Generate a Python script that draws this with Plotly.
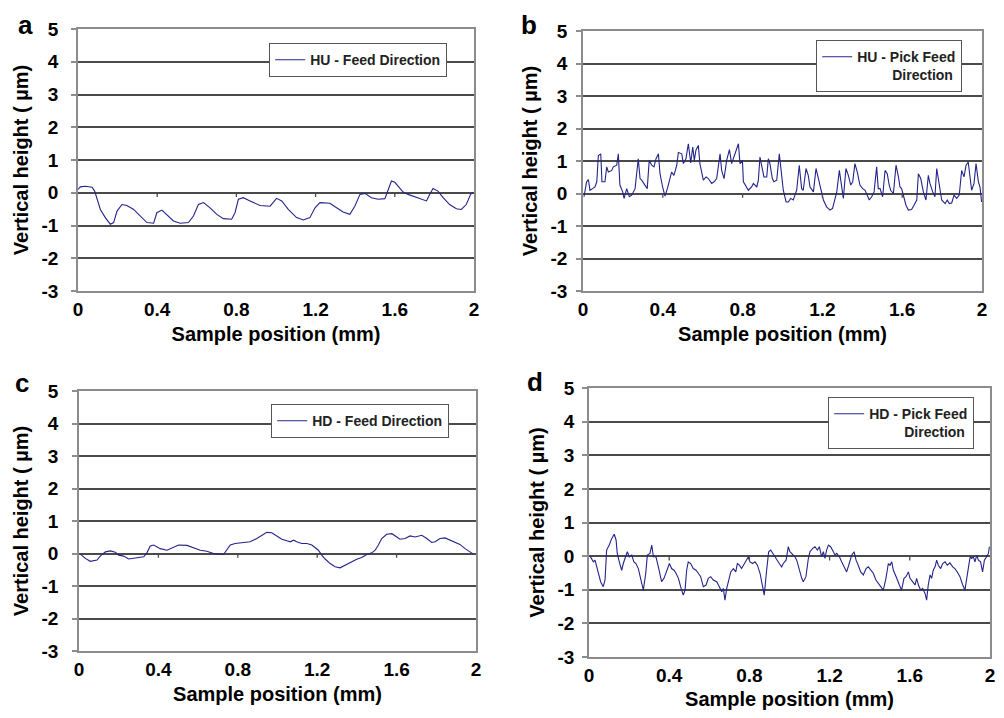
import plotly.graph_objects as go

# ---------------- data ----------------
a_x = [0.000, 0.012, 0.037, 0.071, 0.084, 0.096, 0.113, 0.138, 0.163, 0.180, 0.197, 0.222, 0.247, 0.281,
       0.314, 0.348, 0.382, 0.398, 0.424, 0.449, 0.482, 0.516, 0.558, 0.583, 0.608, 0.634, 0.667, 0.701,
       0.734, 0.776, 0.793, 0.810, 0.835, 0.869, 0.919, 0.970, 1.003, 1.029, 1.062, 1.104, 1.138, 1.171,
       1.197, 1.222, 1.272, 1.306, 1.339, 1.373, 1.398, 1.424, 1.449, 1.482, 1.516, 1.550, 1.566, 1.583,
       1.600, 1.617, 1.642, 1.667, 1.701, 1.734, 1.760, 1.776, 1.793, 1.818, 1.844, 1.877, 1.911, 1.936,
       1.961, 1.983, 1.995]
a_y = [0.10, 0.18, 0.20, 0.17, 0.05, -0.20, -0.51, -0.76, -0.96, -0.91, -0.56, -0.36, -0.39, -0.51,
       -0.71, -0.91, -0.93, -0.61, -0.53, -0.66, -0.86, -0.93, -0.91, -0.71, -0.36, -0.30, -0.46, -0.66,
       -0.79, -0.81, -0.61, -0.20, -0.15, -0.25, -0.39, -0.41, -0.17, -0.25, -0.51, -0.76, -0.83, -0.76,
       -0.46, -0.30, -0.32, -0.46, -0.59, -0.66, -0.41, -0.05, -0.02, -0.15, -0.20, -0.18, 0.10, 0.36,
       0.32, 0.20, 0.02, -0.05, -0.12, -0.18, -0.25, -0.05, 0.13, 0.05, -0.15, -0.36, -0.49, -0.51,
       -0.36, -0.05, 0.02]

b_x = [0.005, 0.018, 0.027, 0.035, 0.048, 0.060, 0.069, 0.077, 0.089, 0.095, 0.110, 0.119, 0.127, 0.144,
       0.152, 0.169, 0.177, 0.185, 0.199, 0.206, 0.219, 0.232, 0.244, 0.261, 0.277, 0.286, 0.294, 0.311,
       0.322, 0.332, 0.344, 0.356, 0.366, 0.378, 0.386, 0.399, 0.411, 0.423, 0.436, 0.444, 0.456, 0.470,
       0.478, 0.495, 0.503, 0.516, 0.528, 0.540, 0.550, 0.558, 0.566, 0.578, 0.586, 0.596, 0.603, 0.617,
       0.628, 0.645, 0.657, 0.670, 0.687, 0.695, 0.707, 0.720, 0.734, 0.745, 0.762, 0.770, 0.779, 0.787,
       0.799, 0.804, 0.817, 0.829, 0.845, 0.854, 0.871, 0.879, 0.887, 0.896, 0.907, 0.921, 0.929, 0.937,
       0.949, 0.957, 0.971, 0.984, 0.991, 1.004, 1.018, 1.029, 1.041, 1.054, 1.071, 1.084, 1.096, 1.104,
       1.118, 1.129, 1.138, 1.155, 1.168, 1.180, 1.191, 1.205, 1.221, 1.238, 1.251, 1.263, 1.272, 1.285,
       1.297, 1.305, 1.318, 1.330, 1.342, 1.352, 1.363, 1.375, 1.388, 1.402, 1.414, 1.422, 1.435, 1.447,
       1.459, 1.472, 1.480, 1.489, 1.502, 1.514, 1.525, 1.535, 1.542, 1.556, 1.569, 1.581, 1.589, 1.597,
       1.609, 1.619, 1.631, 1.647, 1.659, 1.673, 1.681, 1.693, 1.706, 1.719, 1.731, 1.739, 1.753, 1.764,
       1.773, 1.786, 1.798, 1.815, 1.826, 1.836, 1.848, 1.860, 1.873, 1.886, 1.898, 1.910, 1.920, 1.931,
       1.940, 1.948, 1.960, 1.970, 1.982, 1.990, 1.998]
b_y = [-0.10, 0.36, 0.43, 0.10, 0.15, 0.20, 0.36, 1.17, 1.22, 0.36, 0.36, 0.82, 0.66, 0.71,
       0.82, 0.87, 1.22, 0.26, 0.05, -0.15, 0.15, -0.10, -0.05, 0.15, 1.07, 0.46, 0.41, 0.26,
       0.15, 1.02, 0.87, 0.82, 1.07, 1.22, 0.61, 0.20, -0.08, 0.15, 0.46, 0.66, 0.56, 0.87,
       1.26, 1.22, 0.92, 1.07, 1.53, 0.94, 1.43, 1.02, 1.33, 1.48, 0.92, 0.61, 0.41, 0.51,
       0.46, 0.31, 0.36, 0.46, 1.22, 0.71, 0.46, 1.02, 1.35, 0.92, 1.22, 1.43, 1.53, 0.92,
       1.02, 0.36, 0.20, 0.10, 0.20, 0.31, 0.20, 0.41, 1.12, 0.82, 0.51, 0.51, 1.07, 0.92,
       0.46, 0.36, 0.41, 1.22, 0.82, 0.10, -0.26, -0.26, -0.15, -0.20, 0.10, 0.87, 0.15, 0.10,
       0.77, 0.56, 0.20, 0.05, 0.77, 0.46, 0.20, -0.20, -0.41, -0.51, -0.46, -0.15, 0.05, 0.71,
       0.10, -0.15, 0.77, 0.56, 0.26, 0.36, 0.92, 0.66, 0.26, 0.15, 0.10, 0.00, -0.20, -0.10,
       0.05, 0.82, 0.15, 0.15, -0.10, 0.71, 0.61, 0.26, 0.10, 0.00, 0.87, 0.51, 0.20, 0.15,
       -0.15, -0.36, -0.51, -0.49, -0.36, -0.20, 0.61, 0.46, 0.05, -0.20, 0.56, 0.31, 0.05, -0.10,
       0.77, 0.20, -0.20, -0.31, -0.20, -0.31, -0.29, -0.05, -0.15, -0.05, 0.71, 0.51, 0.87, 0.97,
       0.46, 0.10, 0.31, 0.92, 0.36, 0.20, -0.26]

c_x = [0.007, 0.032, 0.057, 0.091, 0.107, 0.133, 0.158, 0.183, 0.200, 0.225, 0.250, 0.275, 0.300, 0.326,
       0.342, 0.359, 0.376, 0.409, 0.443, 0.477, 0.502, 0.544, 0.577, 0.611, 0.644, 0.678, 0.728, 0.742,
       0.762, 0.787, 0.829, 0.862, 0.896, 0.921, 0.946, 0.971, 0.997, 1.022, 1.047, 1.064, 1.081, 1.097,
       1.122, 1.148, 1.173, 1.206, 1.223, 1.240, 1.265, 1.290, 1.315, 1.341, 1.366, 1.399, 1.424, 1.450,
       1.475, 1.492, 1.508, 1.525, 1.550, 1.576, 1.601, 1.617, 1.643, 1.668, 1.693, 1.727, 1.752, 1.777,
       1.794, 1.819, 1.844, 1.869, 1.894, 1.919, 1.945, 1.970, 1.987]
c_y = [-0.02, -0.15, -0.24, -0.20, -0.08, 0.05, 0.08, 0.04, -0.05, -0.08, -0.17, -0.15, -0.12, -0.10,
       0.02, 0.23, 0.26, 0.15, 0.10, 0.18, 0.26, 0.25, 0.18, 0.10, 0.07, 0.00, -0.03, 0.10,
       0.26, 0.31, 0.33, 0.36, 0.46, 0.56, 0.65, 0.64, 0.54, 0.44, 0.39, 0.36, 0.41, 0.36,
       0.31, 0.31, 0.26, 0.10, -0.05, -0.17, -0.31, -0.41, -0.44, -0.36, -0.26, -0.18, -0.12, -0.03,
       0.02, 0.10, 0.26, 0.46, 0.59, 0.61, 0.51, 0.44, 0.46, 0.54, 0.51, 0.56, 0.46, 0.34,
       0.36, 0.46, 0.48, 0.41, 0.33, 0.28, 0.15, 0.05, -0.02]

d_x = [0.005, 0.013, 0.022, 0.030, 0.038, 0.047, 0.058, 0.071, 0.080, 0.088, 0.101, 0.113, 0.126, 0.135,
       0.141, 0.151, 0.163, 0.171, 0.180, 0.191, 0.201, 0.213, 0.224, 0.234, 0.246, 0.258, 0.271, 0.283,
       0.291, 0.304, 0.313, 0.321, 0.334, 0.346, 0.354, 0.362, 0.374, 0.387, 0.401, 0.412, 0.424, 0.434,
       0.446, 0.457, 0.470, 0.479, 0.487, 0.495, 0.507, 0.520, 0.534, 0.545, 0.557, 0.570, 0.584, 0.595,
       0.607, 0.620, 0.637, 0.650, 0.662, 0.670, 0.678, 0.687, 0.700, 0.707, 0.720, 0.732, 0.740, 0.750,
       0.761, 0.770, 0.783, 0.795, 0.803, 0.816, 0.828, 0.840, 0.853, 0.866, 0.874, 0.886, 0.896, 0.906,
       0.916, 0.928, 0.936, 0.949, 0.961, 0.969, 0.983, 0.994, 1.002, 1.016, 1.027, 1.036, 1.049, 1.061,
       1.069, 1.082, 1.094, 1.102, 1.116, 1.127, 1.139, 1.149, 1.160, 1.169, 1.177, 1.185, 1.194, 1.205,
       1.219, 1.227, 1.235, 1.249, 1.260, 1.272, 1.285, 1.298, 1.310, 1.322, 1.332, 1.343, 1.355, 1.368,
       1.382, 1.393, 1.405, 1.418, 1.431, 1.443, 1.455, 1.468, 1.481, 1.493, 1.501, 1.510, 1.518, 1.526,
       1.535, 1.548, 1.559, 1.571, 1.581, 1.593, 1.601, 1.614, 1.626, 1.634, 1.643, 1.654, 1.664, 1.676,
       1.684, 1.692, 1.701, 1.709, 1.717, 1.726, 1.734, 1.742, 1.754, 1.764, 1.776, 1.787, 1.800, 1.814,
       1.825, 1.837, 1.850, 1.864, 1.875, 1.884, 1.892, 1.901, 1.909, 1.917, 1.925, 1.934, 1.942, 1.953,
       1.963, 1.972, 1.983, 1.992, 1.997]
d_y = [0.00, -0.07, -0.17, -0.12, -0.32, -0.56, -0.76, -0.91, -0.71, 0.18, 0.33, 0.52, 0.65, 0.48,
       0.08, -0.17, -0.42, -0.22, -0.07, 0.13, -0.02, 0.03, -0.17, -0.22, -0.37, -0.71, -1.01, -0.51,
       0.03, 0.08, 0.33, -0.02, -0.02, -0.32, -0.56, -0.76, -0.66, -0.42, -0.22, -0.37, -0.42, -0.51,
       -0.66, -0.91, -1.16, -1.01, -0.42, -0.17, -0.22, -0.37, -0.42, -0.51, -0.61, -0.91, -0.86, -0.66,
       -0.61, -0.71, -0.76, -0.91, -1.06, -0.96, -1.31, -0.96, -0.66, -0.47, -0.37, -0.47, -0.22, -0.27,
       -0.37, -0.27, -0.12, -0.02, -0.17, -0.22, -0.17, -0.27, -0.51, -0.96, -1.16, -0.42, 0.13, 0.18,
       0.08, -0.02, -0.12, -0.22, -0.32, -0.22, -0.12, 0.28, 0.13, 0.03, -0.02, -0.12, -0.42, -0.66,
       -0.76, -0.61, -0.07, 0.13, 0.23, 0.28, 0.18, 0.28, -0.02, 0.13, -0.07, 0.18, 0.33, 0.28,
       0.13, 0.03, 0.08, -0.02, -0.17, -0.32, -0.47, -0.22, 0.03, 0.13, -0.12, -0.27, -0.47, -0.56,
       -0.37, -0.32, -0.42, -0.51, -0.71, -0.81, -0.91, -1.01, -0.66, -0.22, -0.27, -0.17, -0.42, -0.56,
       -0.66, -0.86, -1.01, -0.66, -0.61, -0.47, -0.66, -0.76, -0.86, -0.66, -0.86, -1.01, -0.96, -1.11,
       -1.31, -0.86, -0.56, -0.66, -0.42, -0.32, -0.12, -0.27, -0.37, -0.22, -0.17, -0.27, -0.20, -0.32,
       -0.37, -0.47, -0.61, -0.86, -1.01, -0.66, -0.32, -0.02, -0.07, -0.02, -0.17, 0.03, -0.12, -0.17,
       -0.47, -0.12, -0.02, 0.08, 0.28]

series_names = ["HU - Feed Direction",
                "HU - Pick Feed<br>\u00a0\u00a0\u00a0\u00a0\u00a0\u00a0\u00a0\u00a0\u00a0Direction",
                "HD - Feed Direction",
                "HD - Pick Feed<br>\u00a0\u00a0\u00a0\u00a0\u00a0\u00a0\u00a0\u00a0\u00a0Direction"]
panel_letters = ["a", "b", "c", "d"]

x_tick_vals = [0, 0.4, 0.8, 1.2, 1.6, 2]
x_tick_text = ["0", "0.4", "0.8", "1.2", "1.6", "2"]
y_tick_vals = [-3, -2, -1, 0, 1, 2, 3, 4, 5]
y_tick_text = ["-3", "-2", "-1", "0", "1", "2", "3", "4", "5"]

x_title = "Sample position (mm)"
y_title = "Vertical height ( \u00b5m)"

# ---------------- layout geometry ----------------
# positions measured on the 1004x718 window; the page body adds an 8 px margin
OFF = 8
W, H = 1004 - 2 * OFF, 718 - 2 * OFF
plot_boxes = [(78, 474, 29, 291), (583, 982, 31, 291), (79, 476, 391, 651), (589, 990, 388, 657)]
legend_pos = [(269, 43), (816, 40), (271, 404), (828, 397)]
letter_pos = [(25, 8), (529, 8), (22, 366), (535, 365)]   # top of the letter's text box
ylab_pad = [9, 5, 10, 4]


def fx(px):
    return (px - OFF) / W


def fy(py):
    return 1 - (py - OFF) / H


FONT = "Arial, Liberation Sans, sans-serif"
LINE_COL = "#24248a"
GRID_COL = "#4a4a4a"
BORDER_COL = "#8c8c8c"

series = [(a_x, a_y), (b_x, b_y), (c_x, c_y), (d_x, d_y)]

fig = go.Figure()
layout = dict(width=W, height=H, margin=dict(l=0, r=0, t=0, b=0, autoexpand=False),
              paper_bgcolor="white", plot_bgcolor="white",
              font=dict(family=FONT, color="black"), showlegend=True)
shapes = []
annotations = []

for i, ((xs, ys), (l, r, t, b)) in enumerate(zip(series, plot_boxes)):
    n = "" if i == 0 else str(i + 1)
    leg = "legend" if i == 0 else "legend" + str(i + 1)
    fig.add_trace(go.Scatter(x=xs, y=ys, mode="lines", name=series_names[i],
                             line=dict(color=LINE_COL, width=1.1),
                             xaxis="x" + n, yaxis="y" + n, legend=leg))
    layout["xaxis" + n] = dict(domain=[fx(l), fx(r)], anchor="y" + n, range=[0, 2],
                               automargin=False,
                               tickvals=x_tick_vals, ticktext=x_tick_text, ticks="",
                               showgrid=False, zeroline=False, showline=True, mirror=True,
                               linecolor=BORDER_COL, linewidth=1.5,
                               tickfont=dict(family=FONT, size=19, weight="bold"),
                               title=dict(text=x_title, standoff=8,
                                          font=dict(family=FONT, size=20, weight="bold")))
    layout["yaxis" + n] = dict(domain=[fy(b), fy(t)], anchor="x" + n, range=[-3, 5],
                               automargin=False,
                               tickvals=y_tick_vals, ticktext=y_tick_text,
                               ticks="outside", ticklen=5,
                               tickcolor=BORDER_COL, tickwidth=1.5,
                               ticklabelstandoff=ylab_pad[i],
                               showgrid=True, gridcolor=GRID_COL, gridwidth=1.5,
                               zeroline=True, zerolinecolor=GRID_COL, zerolinewidth=1.5,
                               showline=True, mirror=True, linecolor=BORDER_COL, linewidth=1.5,
                               tickfont=dict(family=FONT, size=19, weight="bold"),
                               title=dict(text=y_title, standoff=8,
                                          font=dict(family=FONT, size=20, weight="bold")))
    lx, ly = legend_pos[i]
    layout[leg] = dict(x=fx(lx), y=fy(ly), xanchor="left", yanchor="top", valign="top",
                       bgcolor="white", bordercolor="#555555", borderwidth=1.2,
                       font=dict(family=FONT, size=14, weight="bold", color="#222222"),
                       itemwidth=30, tracegroupgap=0)
    # small tick marks on the zero line (Excel style category axis crossing at 0)
    for tv in x_tick_vals[1:-1]:
        shapes.append(dict(type="line", xref="x" + n, yref="y" + n, x0=tv, x1=tv, y0=0, y1=-0.13,
                           line=dict(color=GRID_COL, width=1.3)))
    px_, py_ = letter_pos[i]
    annotations.append(dict(text="<b>" + panel_letters[i] + "</b>", xref="paper", yref="paper",
                            x=fx(px_), y=fy(py_), xanchor="center", yanchor="top",
                            showarrow=False, font=dict(family=FONT, size=26, color="black")))

layout["shapes"] = shapes
layout["annotations"] = annotations
fig.update_layout(**layout)
fig.write_html("out.html")
